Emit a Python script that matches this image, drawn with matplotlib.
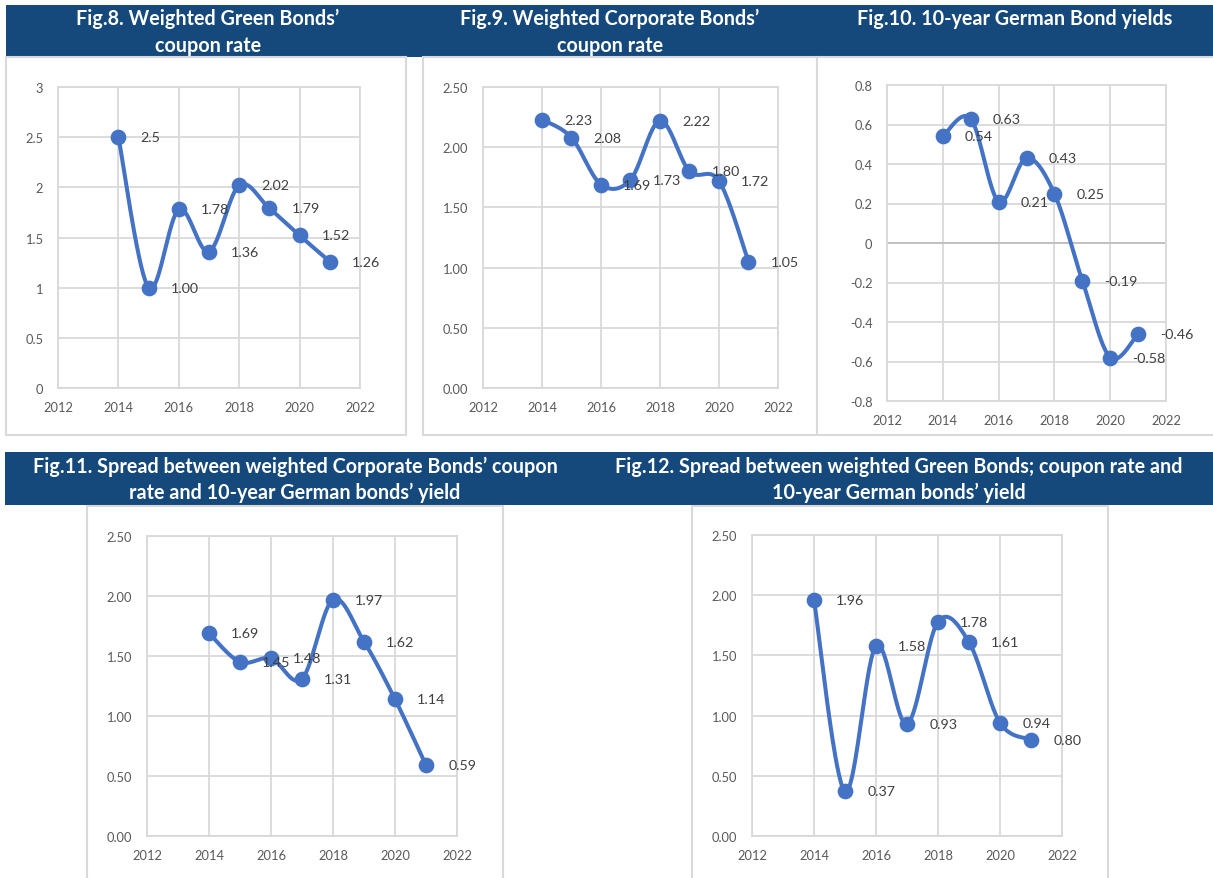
import numpy as np
import matplotlib as mpl
mpl.use('Agg')
import matplotlib.pyplot as plt
from matplotlib.patches import Rectangle
from matplotlib.ticker import FuncFormatter

plt.rcParams['font.family'] = ['Lato', 'DejaVu Sans']

W, H = 1213, 879

years = [2014, 2015, 2016, 2017, 2018, 2019, 2020, 2021]

green_coupon = [2.5, 1.00, 1.78, 1.36, 2.02, 1.79, 1.52, 1.26]
green_labels = ['2.5', '1.00', '1.78', '1.36', '2.02', '1.79', '1.52', '1.26']

corp_coupon = [2.23, 2.08, 1.69, 1.73, 2.22, 1.80, 1.72, 1.05]
corp_labels = ['2.23', '2.08', '1.69', '1.73', '2.22', '1.80', '1.72', '1.05']

bund_yield = [0.54, 0.63, 0.21, 0.43, 0.25, -0.19, -0.58, -0.46]
bund_labels = ['0.54', '0.63', '0.21', '0.43', '0.25', '-0.19', '-0.58', '-0.46']

corp_spread = [1.69, 1.45, 1.48, 1.31, 1.97, 1.62, 1.14, 0.59]
corp_spread_labels = ['1.69', '1.45', '1.48', '1.31', '1.97', '1.62', '1.14', '0.59']

green_spread = [1.96, 0.37, 1.58, 0.93, 1.78, 1.61, 0.94, 0.80]
green_spread_labels = ['1.96', '0.37', '1.58', '0.93', '1.78', '1.61', '0.94', '0.80']

xticks = [2012, 2014, 2016, 2018, 2020, 2022]

titles = [
    ["Fig.8. Weighted Green Bonds\u2019", "coupon rate"],
    ["Fig.9. Weighted Corporate Bonds\u2019", "coupon rate"],
    ["Fig.10. 10-year German Bond yields"],
    ["Fig.11. Spread between weighted Corporate Bonds\u2019 coupon",
     "rate and 10-year German bonds\u2019 yield"],
    ["Fig.12. Spread between weighted Green Bonds; coupon rate and",
     "10-year German bonds\u2019 yield"],
]

BLUE = '#4472C4'
BAR = '#15487B'
GRID = '#d9d9d9'


def fig_rect(x0, y0, x1, y1):
    # pixel box (top-left origin) -> figure fraction [left, bottom, w, h]
    return [x0 / W, 1 - y1 / H, (x1 - x0) / W, (y1 - y0) / H]


def smooth(x, y, n=40):
    # Catmull-Rom style bezier, close to the spreadsheet "smoothed line"
    pts = np.column_stack([x, y]).astype(float)
    out = []
    for i in range(len(pts) - 1):
        p0 = pts[i - 1] if i > 0 else pts[i]
        p1 = pts[i]
        p2 = pts[i + 1]
        p3 = pts[i + 2] if i + 2 < len(pts) else pts[i + 1]
        c1 = p1 + (p2 - p0) / 6.0
        c2 = p2 - (p3 - p1) / 6.0
        t = np.linspace(0, 1, n)[:, None]
        seg = ((1 - t) ** 3) * p1 + 3 * ((1 - t) ** 2) * t * c1 \
            + 3 * (1 - t) * t ** 2 * c2 + t ** 3 * p2
        out.append(seg if i == 0 else seg[1:])
    out = np.vstack(out)
    return out[:, 0], out[:, 1]


fig = plt.figure(figsize=(W / 100, H / 100), dpi=100)


def box(x0, y0, x1, y1, **kw):
    r = fig_rect(x0, y0, x1, y1)
    fig.add_artist(Rectangle((r[0], r[1]), r[2], r[3], transform=fig.transFigure,
                             zorder=-2, **kw))


# title bars
box(6, 6, 1213, 58, facecolor=BAR, edgecolor='none')
box(5, 453, 1213, 506, facecolor=BAR, edgecolor='none')

# chart frames
frames = [(6, 58, 406, 436), (423, 58, 817, 436), (817, 58, 1216, 436),
          (87, 507, 503, 895), (692, 507, 1108, 895)]
for f in frames:
    box(*f, facecolor='white', edgecolor=GRID, linewidth=1.5)

# title text
title_pos = [(208, [19, 46]), (610, [19, 46]), (1015, [19]),
             (295, [467, 493]), (899, [467, 493])]
for lines, (cx, ys) in zip(titles, title_pos):
    for line, cy in zip(lines, ys):
        fig.text(cx / W, 1 - cy / H, line, ha='center', va='center',
                 color='white', fontsize=14.2, fontweight='bold')

fmt_g = FuncFormatter(lambda v, p: '{:g}'.format(round(v, 2) + 0.0))
fmt_2 = FuncFormatter(lambda v, p: '{:.2f}'.format(v))

panels = [
    (green_coupon, green_labels, (58, 88, 360, 389), (0, 3), np.arange(0, 3.01, 0.5), fmt_g),
    (corp_coupon, corp_labels, (483, 88, 778, 389), (0, 2.5), np.arange(0, 2.51, 0.5), fmt_2),
    (bund_yield, bund_labels, (887, 86, 1166, 402), (-0.8, 0.8), np.linspace(-0.8, 0.8, 9), fmt_g),
    (corp_spread, corp_spread_labels, (147, 537, 457, 837), (0, 2.5), np.arange(0, 2.51, 0.5), fmt_2),
    (green_spread, green_spread_labels, (752, 536, 1062, 837), (0, 2.5), np.arange(0, 2.51, 0.5), fmt_2),
]

for vals, labels, pos, ylim, yticks, fmt in panels:
    ax = fig.add_axes(fig_rect(*pos))
    ax.patch.set_alpha(0)
    ax.set_xlim(2012, 2022)
    ax.set_ylim(*ylim)
    ax.set_xticks(xticks)
    ax.set_yticks(yticks)
    ax.yaxis.set_major_formatter(fmt)
    ax.grid(True, color=GRID, linewidth=1.3)
    ax.set_axisbelow(True)
    for s in ax.spines.values():
        s.set_color(GRID)
        s.set_linewidth(1.3)
    ax.axhline(0, color='#bfbfbf', linewidth=1.3, zorder=1)
    ax.tick_params(length=0, labelsize=9.3, labelcolor='#595959')
    ax.tick_params(axis='y', pad=10.5)
    ax.tick_params(axis='x', pad=9.5)

    sx, sy = smooth(years, vals)
    ax.plot(sx, sy, color=BLUE, linewidth=2.9, solid_capstyle='round', zorder=3)
    ax.plot(years, vals, 'o', color=BLUE, markersize=10.3, zorder=4)
    for xv, yv, lbl in zip(years, vals, labels):
        ax.annotate(lbl, (xv, yv), xytext=(16, 0), textcoords='offset points',
                    ha='left', va='center', fontsize=10.3, color='#404040', zorder=5)

fig.savefig('out.png', dpi=100)
